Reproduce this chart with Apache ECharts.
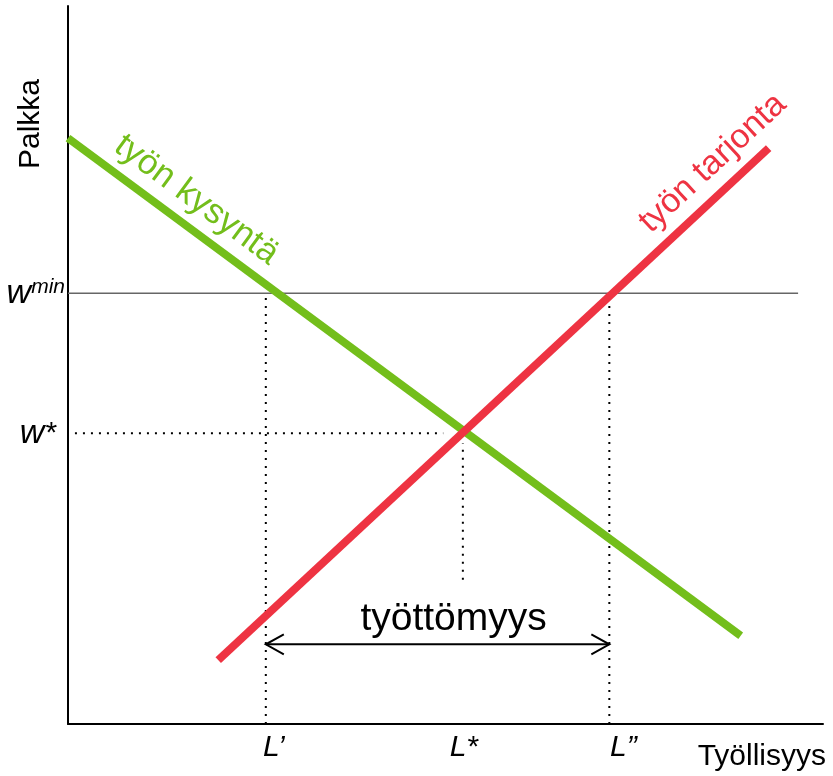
<!DOCTYPE html>
<html><head><meta charset="utf-8">
<script src="https://cdn.jsdelivr.net/npm/echarts@6/dist/echarts.min.js"></script>
<style>html,body{margin:0;padding:0;background:#fff}#c{width:833px;height:776px}</style>
</head><body><div id="c"></div>
<script>
// ---- data (abstract units: x 0..100, y 0..100) ----
const demandX = [0, 89.1];
const demandY = [81.6, 12.3];
const supplyX = [19.9, 92.8];
const supplyY = [8.9, 80.2];
const wMin = 60;
const wStar = 40.5;
const wMinLineEnd = 96.7;
const wStarLine = [-1.2, 49.7];
const lValues = [26.2, 52.3, 71.7];          // L', L*, L"
const lTickLabels = ["{a|L\u2019}", "{b|L*}", "{c|L\u201d}"];
const lStarDotRange = [20.1, 39.1];
const arrowY = 11.1;
const yTickValues = [wStar, wMin];
const yTickLabels = ["{w|w}{s|*}", "{w|w}{m|min}"];
const demandLabelPos = [17.0, 73.0];
const supplyLabelPos = [85.4, 78.1];

const FONT = "Liberation Sans, Arial, sans-serif";
const GREEN = "#73BE1B", RED = "#EE3342";

const chart = echarts.init(document.getElementById('c'), null, {renderer: 'canvas'});
const zip = (a, b) => a.map((v, i) => [v, b[i]]);
const dotted = {color: '#000', width: 2, type: [2, 6]};
const lab = {fontFamily: FONT, fontStyle: 'italic', fontSize: 30, color: '#000'};

const option = {
  animation: false,
  grid: {left: 68, right: 10, top: 6, bottom: 52},
  xAxis: {
    type: 'value', min: 0, max: 100,
    axisLine: {show: true, onZero: false, lineStyle: {color: '#000', width: 2}},
    axisTick: {show: false}, splitLine: {show: false},
    axisLabel: {
      customValues: lValues,
      formatter: v => lTickLabels[lValues.indexOf(v)] || '',
      margin: 9,
      rich: {
        a: Object.assign({padding: [0, 0, 0, 16]}, lab),
        b: Object.assign({padding: [0, 0, 0, 2]}, lab),
        c: Object.assign({padding: [0, 0, 0, 28]}, lab)
      }
    }
  },
  yAxis: {
    type: 'value', min: 0, max: 100,
    axisLine: {show: true, onZero: false, lineStyle: {color: '#000', width: 2}},
    axisTick: {show: false}, splitLine: {show: false},
    axisLabel: {
      customValues: yTickValues,
      formatter: v => yTickLabels[yTickValues.indexOf(v)] || '',
      margin: 3,
      rich: {
        w: {fontFamily: FONT, fontStyle: 'italic', fontSize: 34, color: '#000'},
        s: {fontFamily: FONT, fontStyle: 'italic', fontSize: 30, color: '#000', padding: [0, 9, 0, 0]},
        m: {fontFamily: FONT, fontStyle: 'italic', fontSize: 21, color: '#000', verticalAlign: 'top'}
      }
    }
  },
  series: [
    {type: 'line', data: [[0, wMin], [wMinLineEnd, wMin]], symbol: 'none', silent: true,
     lineStyle: {color: '#666', width: 1.5}, z: 1},
    {type: 'line', data: [[wStarLine[0], wStar], [wStarLine[1], wStar]], symbol: 'none', silent: true, clip: false, lineStyle: dotted, z: 1},
    {type: 'line', data: [[lValues[0], 0], [lValues[0], wMin]], symbol: 'none', silent: true, lineStyle: dotted, z: 1},
    {type: 'line', data: [[lValues[2], 0], [lValues[2], wMin]], symbol: 'none', silent: true, lineStyle: dotted, z: 1},
    {type: 'line', data: [[lValues[1], lStarDotRange[0]], [lValues[1], lStarDotRange[1]]], symbol: 'none', silent: true, lineStyle: dotted, z: 1},
    {type: 'line', data: zip(demandX, demandY), symbol: 'none', silent: true,
     lineStyle: {color: GREEN, width: 8, cap: 'butt'}, z: 3},
    {type: 'line', data: zip(supplyX, supplyY), symbol: 'none', silent: true,
     lineStyle: {color: RED, width: 8, cap: 'butt'}, z: 4},
    {type: 'custom', silent: true, z: 5,
     data: [[lValues[0], lValues[2], arrowY]],
     renderItem: (params, api) => {
       const a = api.coord([api.value(0), api.value(2)]);
       const b = api.coord([api.value(1), api.value(2)]);
       const st = {stroke: '#000', lineWidth: 2, fill: null};
       return {type: 'group', children: [
         {type: 'line', shape: {x1: a[0], y1: a[1], x2: b[0], y2: b[1]}, style: st},
         {type: 'polyline', shape: {points: [[a[0] + 18, a[1] - 10], a, [a[0] + 18, a[1] + 10]]}, style: st},
         {type: 'polyline', shape: {points: [[b[0] - 18, b[1] - 10], b, [b[0] - 18, b[1] + 10]]}, style: st},
         {type: 'text', x: (a[0] + b[0]) / 2 + 16, y: a[1] - 25,
          style: {text: 'työttömyys', fontFamily: FONT, fontSize: 39, fill: '#000', align: 'center', verticalAlign: 'middle'}}
       ]};
     }}
  ]
};
chart.setOption(option);

function angleOf(xs, ys) {
  const p1 = chart.convertToPixel({gridIndex: 0}, [xs[0], ys[0]]);
  const p2 = chart.convertToPixel({gridIndex: 0}, [xs[1], ys[1]]);
  return -Math.atan2(p2[1] - p1[1], p2[0] - p1[0]);
}
const dp = chart.convertToPixel({gridIndex: 0}, demandLabelPos);
const sp = chart.convertToPixel({gridIndex: 0}, supplyLabelPos);
chart.setOption({
  graphic: [
    {type: 'text', x: dp[0], y: dp[1], rotation: angleOf(demandX, demandY),
     style: {text: 'työn kysyntä', fontFamily: FONT, fontSize: 35, fill: GREEN, align: 'center', verticalAlign: 'middle'}},
    {type: 'text', x: sp[0], y: sp[1], rotation: angleOf(supplyX, supplyY),
     style: {text: 'työn tarjonta', fontFamily: FONT, fontSize: 34, fill: RED, align: 'center', verticalAlign: 'middle'}},
    {type: 'text', x: 31, y: 124, rotation: Math.PI / 2,
     style: {text: 'Palkka', fontFamily: FONT, fontSize: 30, fill: '#000', align: 'center', verticalAlign: 'middle'}},
    {type: 'text', x: 826, y: 757,
     style: {text: 'Työllisyys', fontFamily: FONT, fontSize: 30, fill: '#000', align: 'right', verticalAlign: 'middle'}}
  ]
});
</script></body></html>
